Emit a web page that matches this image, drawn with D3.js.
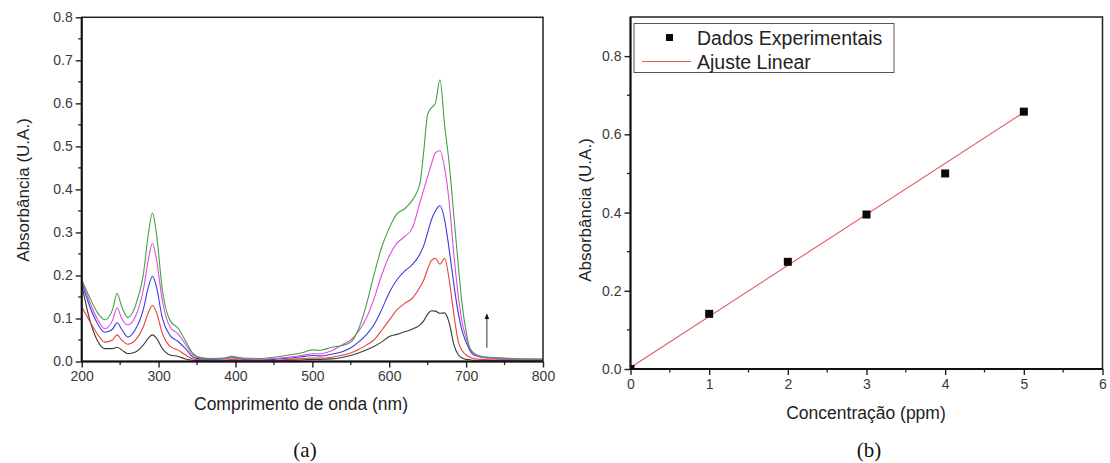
<!DOCTYPE html>
<html><head><meta charset="utf-8">
<script src="https://cdn.jsdelivr.net/npm/d3@7"></script>
<style>
body{margin:0;background:#fff;}
svg{display:block;font-family:"Liberation Sans",Arial,sans-serif;}
</style></head><body>
<svg id="c" width="1110" height="463"></svg>
<script>
// ---------- Panel (a) data ----------
const wavelength = [200,210,220,230,240,246,252,260,270,280,287,292,297,305,315,325,335,345,355,370,385,395,410,430,450,470,490,500,510,525,540,550,560,570,580,590,600,610,620,630,640,645,650,655,660,666,672,678,684,690,695,700,705,710,720,730,750,775,800];
const absGreen = [0.19,0.15,0.115,0.097,0.12,0.158,0.128,0.102,0.13,0.2,0.3,0.345,0.3,0.165,0.095,0.078,0.048,0.018,0.009,0.007,0.008,0.012,0.008,0.007,0.01,0.015,0.022,0.027,0.026,0.033,0.038,0.045,0.075,0.13,0.2,0.265,0.31,0.343,0.355,0.375,0.415,0.49,0.575,0.59,0.6,0.655,0.55,0.46,0.34,0.22,0.13,0.07,0.03,0.02,0.012,0.01,0.008,0.006,0.005];
const absMagenta = [0.19,0.14,0.1,0.076,0.095,0.125,0.1,0.085,0.105,0.165,0.24,0.275,0.24,0.14,0.08,0.065,0.04,0.015,0.008,0.006,0.007,0.01,0.006,0.005,0.007,0.01,0.015,0.018,0.018,0.025,0.04,0.05,0.07,0.1,0.145,0.2,0.245,0.275,0.29,0.31,0.37,0.4,0.43,0.46,0.485,0.49,0.45,0.37,0.25,0.15,0.09,0.055,0.03,0.018,0.01,0.008,0.006,0.005,0.005];
const absBlue = [0.185,0.13,0.09,0.068,0.075,0.09,0.075,0.057,0.075,0.12,0.175,0.198,0.175,0.1,0.06,0.047,0.03,0.01,0.006,0.005,0.006,0.009,0.005,0.004,0.005,0.008,0.012,0.014,0.013,0.017,0.023,0.032,0.045,0.062,0.085,0.12,0.16,0.19,0.21,0.225,0.25,0.27,0.3,0.33,0.35,0.362,0.33,0.26,0.18,0.11,0.07,0.045,0.025,0.015,0.01,0.008,0.006,0.005,0.005];
const absRed = [0.127,0.095,0.065,0.045,0.05,0.062,0.05,0.04,0.05,0.08,0.115,0.13,0.115,0.065,0.035,0.027,0.015,0.006,0.004,0.003,0.003,0.005,0.003,0.003,0.003,0.005,0.007,0.008,0.008,0.01,0.015,0.02,0.028,0.038,0.05,0.072,0.096,0.12,0.135,0.147,0.173,0.19,0.215,0.235,0.24,0.226,0.24,0.19,0.11,0.045,0.025,0.015,0.01,0.007,0.005,0.004,0.004,0.003,0.003];
const absBlack = [0.18,0.1,0.05,0.03,0.03,0.033,0.027,0.018,0.022,0.038,0.055,0.062,0.055,0.03,0.015,0.012,0.006,0.003,0.002,0.002,0.002,0.003,0.002,0.002,0.002,0.003,0.004,0.005,0.005,0.006,0.01,0.014,0.02,0.027,0.035,0.045,0.058,0.063,0.069,0.075,0.085,0.095,0.11,0.118,0.117,0.112,0.113,0.09,0.04,0.015,0.008,0.005,0.004,0.003,0.003,0.002,0.002,0.002,0.002];
const seriesA = [absBlack, absRed, absBlue, absMagenta, absGreen];
const seriesAColors = ["#3a3a3a","#e8413c","#3b3be0","#e04ae0","#43a043"];
const xTicksA = [200,300,400,500,600,700,800];
const yTicksA = [0.0,0.1,0.2,0.3,0.4,0.5,0.6,0.7,0.8];
const arrowNm = [727,727];
const arrowAbs = [0.032,0.105];

// ---------- Panel (b) data ----------
const concentration = [0,1,2,3,4,5];
const absMeasured = [0.0,0.141,0.274,0.395,0.5,0.658];
const fitConc = [0,5];
const fitAbs = [0.004,0.656];
const xTicksB = [0,1,2,3,4,5,6];
const yTicksB = [0.0,0.2,0.4,0.6,0.8];
const legendLabels = ["Dados Experimentais","Ajuste Linear"];

const svg = d3.select("#c");
const tickColor = "#3a3a3a";

function frame(g, x, y, xTicks, yTicks, xMinor, yMinor, yFmt, xFmt){
  const [x0,x1] = x.range(), [y0,y1] = y.range();
  g.append("g").selectAll("line").data(xMinor).join("line")
    .attr("x1",d=>x(d)).attr("x2",d=>x(d)).attr("y1",y0).attr("y2",y0+3.5)
    .attr("stroke","#222").attr("stroke-width",1.3);
  g.append("g").selectAll("line").data(yMinor).join("line")
    .attr("y1",d=>y(d)).attr("y2",d=>y(d)).attr("x1",x0).attr("x2",x0-3.5)
    .attr("stroke","#222").attr("stroke-width",1.3);
  const ax = g.append("g").attr("transform",`translate(0,${y0})`)
    .call(d3.axisBottom(x).tickValues(xTicks).tickSize(6).tickPadding(4).tickFormat(xFmt));
  const ay = g.append("g").attr("transform",`translate(${x0},0)`)
    .call(d3.axisLeft(y).tickValues(yTicks).tickSize(6).tickPadding(3).tickFormat(yFmt));
  [ax,ay].forEach(a=>{
    a.select(".domain").remove();
    a.selectAll(".tick line").attr("stroke","#222").attr("stroke-width",1.4);
    a.selectAll(".tick text").attr("fill",tickColor).style("font-size","14px").style("font-family","'Liberation Sans',Arial,sans-serif");
  });
  g.append("rect").attr("x",x0).attr("y",y1).attr("width",x1-x0).attr("height",y0-y1)
    .attr("fill","none").attr("stroke","#222").attr("stroke-width",1.5);
  g.append("line").attr("x1",x0).attr("x2",x1).attr("y1",y0).attr("y2",y0).attr("stroke","#111").attr("stroke-width",2);
  g.append("line").attr("x1",x0).attr("x2",x0).attr("y1",y0).attr("y2",y1).attr("stroke","#111").attr("stroke-width",2);
}

// ---------- Panel (a) ----------
const xA = d3.scaleLinear().domain([200,800]).range([81.7,543]);
const yA = d3.scaleLinear().domain([0,0.8]).range([361.5,17.3]);
const gA = svg.append("g");
gA.append("clipPath").attr("id","clipA").append("rect")
  .attr("x",81.7).attr("y",17.3).attr("width",543-81.7).attr("height",361.5-17.3);
const lineA = d3.line().curve(d3.curveMonotoneX);
const curves = gA.append("g").attr("clip-path","url(#clipA)");
seriesA.forEach((s,i)=>{
  curves.append("path")
    .attr("d", lineA(wavelength.map((w,j)=>[xA(w), yA(s[j])])))
    .attr("fill","none").attr("stroke",seriesAColors[i]).attr("stroke-width",1.1);
});
const defs = svg.append("defs");
defs.append("marker").attr("id","ah").attr("viewBox","0 0 10 10").attr("refX",5).attr("refY",5)
  .attr("markerWidth",5).attr("markerHeight",7).attr("orient","auto")
  .append("path").attr("d","M0,1 L10,5 L0,9 Z").attr("fill","#111");
gA.append("line").attr("x1",xA(arrowNm[0])).attr("x2",xA(arrowNm[1]))
  .attr("y1",yA(arrowAbs[0])).attr("y2",yA(arrowAbs[1]))
  .attr("stroke","#555").attr("stroke-width",1.2).attr("marker-end","url(#ah)");
frame(gA, xA, yA, xTicksA, yTicksA,
  d3.range(250,800,100), d3.range(0.05,0.8,0.1),
  d3.format(".1f"), d3.format("d"));
gA.append("text").attr("transform",`translate(29,190) rotate(-90)`).attr("text-anchor","middle")
  .attr("fill","#222").style("font-size","17px").text("Absorbância (U.A.)");
gA.append("text").attr("x",301).attr("y",410).attr("text-anchor","middle")
  .attr("fill","#222").style("font-size","17.5px").text("Comprimento de onda (nm)");
gA.append("text").attr("x",305).attr("y",457).attr("text-anchor","middle")
  .attr("fill","#111").style("font-family","'Liberation Serif','Times New Roman',serif").style("font-size","21px").text("(a)");

// ---------- Panel (b) ----------
const xB = d3.scaleLinear().domain([0,6]).range([630.5,1102.5]);
const yB = d3.scaleLinear().domain([0,0.9]).range([369,17]);
const gB = svg.append("g");
frame(gB, xB, yB, xTicksB, yTicksB,
  d3.range(0.5,6,1), d3.range(0.1,0.9,0.2),
  d3.format(".1f"), d3.format("d"));
gB.append("clipPath").attr("id","clipB").append("rect")
  .attr("x",630.5).attr("y",17).attr("width",472).attr("height",352);
gB.append("path").attr("d", d3.line()(fitConc.map((c,i)=>[xB(c), yB(fitAbs[i])])))
  .attr("stroke","#e8575a").attr("stroke-width",1.1).attr("fill","none");
gB.append("g").attr("clip-path","url(#clipB)").selectAll("rect").data(concentration).join("rect")
  .attr("x",(d)=>xB(d)-4).attr("y",(d,i)=>yB(absMeasured[i])-4).attr("width",8).attr("height",8)
  .attr("fill","#0a0a0a");
const lg = gB.append("g");
lg.append("rect").attr("x",634).attr("y",23.5).attr("width",260).attr("height",49)
  .attr("fill","#fff").attr("stroke","#555").attr("stroke-width",1);
lg.append("rect").attr("x",666).attr("y",34).attr("width",7).attr("height",7).attr("fill","#0a0a0a");
lg.append("line").attr("x1",642).attr("x2",691).attr("y1",61.5).attr("y2",61.5).attr("stroke","#e8575a").attr("stroke-width",1.1);
lg.selectAll("text.lt").data(legendLabels).join("text").attr("class","lt")
  .attr("x",697).attr("y",(d,i)=>44.5+i*24).attr("fill","#222").style("font-size","19.5px").text(d=>d);
gB.append("text").attr("transform",`translate(591,210) rotate(-90)`).attr("text-anchor","middle")
  .attr("fill","#222").style("font-size","17px").text("Absorbância (U.A.)");
gB.append("text").attr("x",866).attr("y",419).attr("text-anchor","middle")
  .attr("fill","#222").style("font-size","17.5px").text("Concentração (ppm)");
gB.append("text").attr("x",869).attr("y",457).attr("text-anchor","middle")
  .attr("fill","#111").style("font-family","'Liberation Serif','Times New Roman',serif").style("font-size","21px").text("(b)");
</script>
</body></html>
